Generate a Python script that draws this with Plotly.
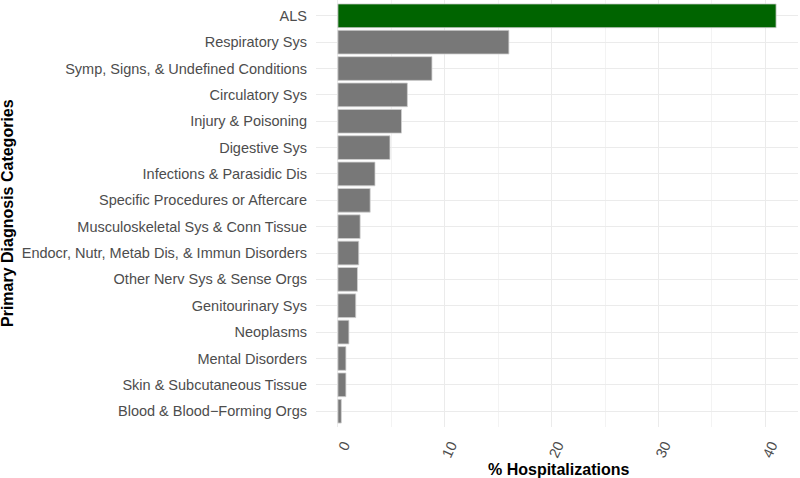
import plotly.graph_objects as go

categories = [
    "ALS",
    "Respiratory Sys",
    "Symp, Signs, & Undefined Conditions",
    "Circulatory Sys",
    "Injury & Poisoning",
    "Digestive Sys",
    "Infections & Parasidic Dis",
    "Specific Procedures or Aftercare",
    "Musculoskeletal Sys & Conn Tissue",
    "Endocr, Nutr, Metab Dis, & Immun Disorders",
    "Other Nerv Sys & Sense Orgs",
    "Genitourinary Sys",
    "Neoplasms",
    "Mental Disorders",
    "Skin & Subcutaneous Tissue",
    "Blood & Blood\u2212Forming Orgs",
]
values = [41.0, 16.0, 8.8, 6.5, 5.95, 4.87, 3.47, 3.02, 2.08, 1.95, 1.83, 1.67, 1.03, 0.75, 0.75, 0.32]
tick_vals = [0, 10, 20, 30, 40]

colors = ["#006400" if c == "ALS" else "#787878" for c in categories]

L, R, T, B = 316, 2, 0, 51
W, H = 800, 478
pw, ph = W - L - R, H - T - B

fig = go.Figure(go.Bar(
    x=values, y=categories, orientation="h",
    marker=dict(color=colors, line=dict(color="#d0d0d0", width=0.8)),
    width=0.9,
))

fig.update_layout(
    width=W, height=H,
    margin=dict(l=L, r=R, t=T, b=B),
    plot_bgcolor="white", paper_bgcolor="white",
    font=dict(family="Liberation Sans, Arial, sans-serif"),
    showlegend=False,
    xaxis=dict(
        range=[-2.05, 43.05],
        tickvals=tick_vals,
        ticktext=[str(v) for v in tick_vals],
        tickangle=-65,
        tickfont=dict(size=14.5, color="#4d4d4d"),
        showgrid=True, gridcolor="#ebebeb", gridwidth=1,
        minor=dict(tickvals=[5, 15, 25, 35], showgrid=True, gridcolor="#f3f3f3", gridwidth=0.6),
        zeroline=False, showline=False, ticks="",
        ticklabelstandoff=6,
        ticklabelshift=6,
        automargin=False,
    ),
    yaxis=dict(
        categoryorder="array", categoryarray=categories[::-1],
        range=[-0.6, 15.6],
        tickfont=dict(size=14.5, color="#4d4d4d"),
        showgrid=True, gridcolor="#ebebeb", gridwidth=1,
        zeroline=False, showline=False, ticks="",
        ticklabelstandoff=8,
        automargin=False,
    ),
    annotations=[
        dict(text="<b>% Hospitalizations</b>", xref="paper", yref="paper",
             x=(558 - L) / pw, y=(ph - (469 - T)) / ph, xanchor="center", yanchor="middle",
             showarrow=False, font=dict(size=16, color="black")),
        dict(text="<b>Primary Diagnosis Categories</b>", xref="paper", yref="paper",
             x=(7 - L) / pw, y=(ph - (213 - T)) / ph, xanchor="center", yanchor="middle",
             textangle=-90, showarrow=False, font=dict(size=16, color="black")),
    ],
)

fig.write_html("out.html", config={"displayModeBar": False},
               post_script="document.body.style.margin='0';document.body.style.padding='0';")
